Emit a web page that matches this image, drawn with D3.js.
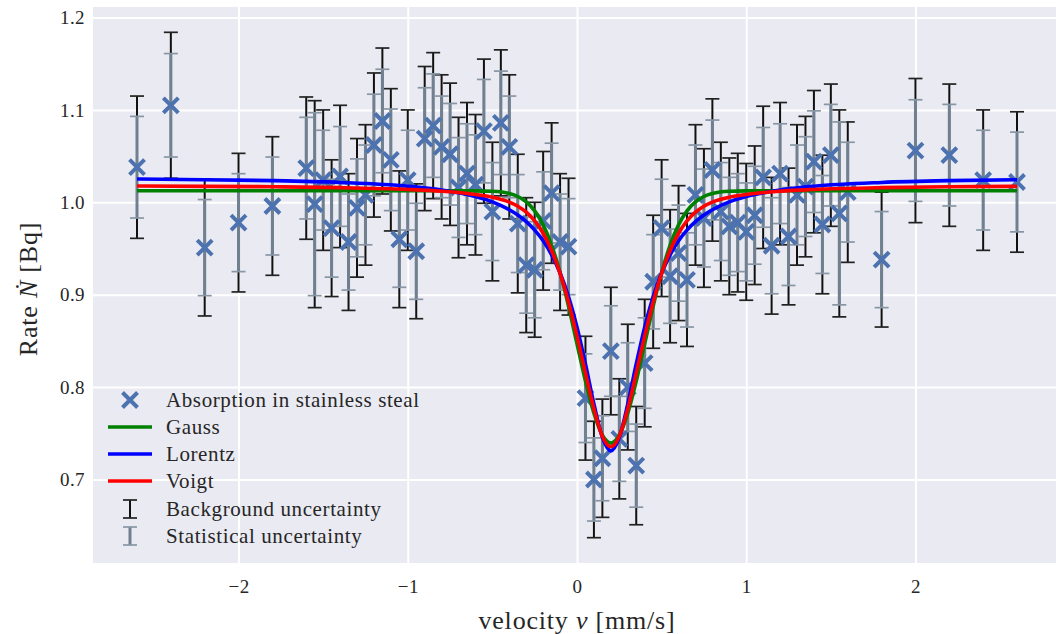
<!DOCTYPE html>
<html>
<head>
<meta charset="utf-8">
<script src="https://cdn.jsdelivr.net/npm/d3@7"></script>
<style>
  body { margin: 0; background: #fff; }
  text { font-family: "Liberation Serif", "DejaVu Serif", serif; fill: #262626; }
</style>
</head>
<body>
<div id="chart"></div>
<script>
// measured points (velocity in mm/s, rate in Bq)
var velocity = [-2.6, -2.4, -2.2, -2.0, -1.8,
  -1.6, -1.55, -1.5, -1.45, -1.4, -1.35, -1.3, -1.25, -1.2, -1.15, -1.1, -1.05, -1.0,
  -0.95, -0.9, -0.85, -0.8, -0.75, -0.7, -0.65, -0.6, -0.55, -0.5, -0.45, -0.4, -0.35,
  -0.3, -0.25, -0.2, -0.15, -0.1, -0.05,
  0.05, 0.1, 0.15, 0.2, 0.25, 0.3, 0.35, 0.4, 0.45, 0.5, 0.55, 0.6, 0.65, 0.7, 0.75,
  0.8, 0.85, 0.9, 0.95, 1.0, 1.05, 1.1, 1.15, 1.2, 1.25, 1.3, 1.35, 1.4, 1.45, 1.5,
  1.55, 1.6,
  1.8, 2.0, 2.2, 2.4, 2.6];
var rate = [1.038, 1.105, 0.951, 0.978, 0.996,
  1.037, 0.998, 1.024, 0.972, 1.028, 0.957, 0.994, 1.008, 1.062, 1.088, 1.046, 0.960, 1.024,
  0.947, 1.069, 1.083, 1.060, 1.052, 1.016, 1.031, 1.019, 1.077, 0.990, 1.086, 1.060, 0.977,
  0.932, 0.927, 0.980, 1.010, 0.957, 0.952,
  0.788, 0.700, 0.723, 0.839, 0.744, 0.800, 0.715, 0.826, 0.914, 0.972, 0.920, 0.945, 0.916, 1.008, 0.983,
  1.035, 0.990, 0.974, 0.978, 0.968, 0.986, 1.027, 0.953, 1.031, 0.963, 1.008, 1.017, 1.044, 0.976, 1.051,
  0.988, 1.011,
  0.938, 1.056, 1.051, 1.024, 1.022];
var statErr = [0.055, 0.056, 0.052, 0.053, 0.053,
  0.055, 0.099, 0.054, 0.053, 0.054, 0.052, 0.053, 0.054, 0.055, 0.056, 0.055, 0.052, 0.054,
  0.052, 0.055, 0.056, 0.055, 0.055, 0.054, 0.054, 0.054, 0.056, 0.053, 0.056, 0.055, 0.053,
  0.052, 0.052, 0.053, 0.054, 0.052, 0.052,
  0.048, 0.045, 0.046, 0.049, 0.046, 0.048, 0.045, 0.049, 0.051, 0.053, 0.051, 0.052, 0.051, 0.054, 0.053,
  0.054, 0.053, 0.053, 0.053, 0.053, 0.053, 0.054, 0.052, 0.054, 0.053, 0.054, 0.054, 0.055, 0.053, 0.055,
  0.099, 0.054,
  0.052, 0.055, 0.055, 0.054, 0.054];
var bgErr = [0.077, 0.079, 0.074, 0.075, 0.075,
  0.077, 0.112, 0.076, 0.074, 0.077, 0.074, 0.075, 0.076, 0.078, 0.079, 0.077, 0.074, 0.076,
  0.073, 0.078, 0.079, 0.078, 0.077, 0.076, 0.077, 0.076, 0.078, 0.075, 0.079, 0.078, 0.075,
  0.073, 0.073, 0.075, 0.076, 0.074, 0.074,
  0.067, 0.063, 0.064, 0.069, 0.065, 0.068, 0.064, 0.069, 0.072, 0.074, 0.072, 0.073, 0.072, 0.076, 0.075,
  0.077, 0.075, 0.074, 0.075, 0.074, 0.075, 0.077, 0.074, 0.077, 0.074, 0.076, 0.076, 0.077, 0.075, 0.077,
  0.112, 0.076,
  0.073, 0.078, 0.077, 0.076, 0.076];

// fitted curves
var fitV = [-2.6, -2.2, -1.8, -1.4, -1.0, -0.8, -0.6, -0.5, -0.4, -0.35, -0.3, -0.25, -0.2, -0.15,
  -0.1, -0.05, 0, 0.05, 0.1, 0.15, 0.2, 0.25, 0.3, 0.35, 0.4, 0.45, 0.5, 0.55, 0.6, 0.65, 0.7,
  0.75, 0.8, 0.9, 1.0, 1.2, 1.4, 1.8, 2.2, 2.6];
var gaussFit = [1.0125, 1.0125, 1.0125, 1.0125, 1.0125, 1.0125, 1.0124, 1.0119, 1.0095, 1.0063,
  1.0005, 0.9908, 0.9756, 0.9535, 0.9239, 0.8875, 0.8469, 0.8064, 0.7716, 0.7479, 0.7395, 0.7479,
  0.7716, 0.8064, 0.8469, 0.8875, 0.9239, 0.9535, 0.9756, 0.9908, 1.0005, 1.0063, 1.0095, 1.0119,
  1.0124, 1.0125, 1.0125, 1.0125, 1.0125, 1.0125];
var lorentzFit = [1.0252, 1.0245, 1.0235, 1.0215, 1.0174, 1.0133, 1.0062, 1.0004, 0.9919, 0.9862,
  0.9790, 0.9699, 0.9583, 0.9432, 0.9235, 0.8978, 0.8649, 0.8250, 0.7817, 0.7455, 0.7310, 0.7455,
  0.7817, 0.8250, 0.8649, 0.8978, 0.9235, 0.9432, 0.9583, 0.9699, 0.9790, 0.9862, 0.9919, 1.0004,
  1.0062, 1.0133, 1.0174, 1.0215, 1.0235, 1.0245];
var voigtFit = [1.0176, 1.0173, 1.0168, 1.0159, 1.0139, 1.0120, 1.0085, 1.0055, 1.0002, 0.9958,
  0.9893, 0.9799, 0.9665, 0.9478, 0.9231, 0.8919, 0.8552, 0.8151, 0.7764, 0.7468, 0.7355, 0.7468,
  0.7764, 0.8151, 0.8552, 0.8919, 0.9231, 0.9478, 0.9665, 0.9799, 0.9893, 0.9958, 1.0002, 1.0055,
  1.0085, 1.0120, 1.0139, 1.0159, 1.0168, 1.0173];

var xTicks = [-2, -1, 0, 1, 2];
var yTicks = [0.7, 0.8, 0.9, 1.0, 1.1, 1.2];
var fitNames = ["Gauss", "Lorentz", "Voigt"];
var fitColors = ["#008000", "#0000ff", "#ff0000"];

var W = 1056, H = 634;
var margin = {top: 7, left: 93},
    width = 968,
    height = 556;

var x = d3.scaleLinear().domain([-2.86, 2.86]).range([0, width]);
var y = d3.scaleLinear().domain([0.6096, 1.2114]).range([height, 0]);

var svg = d3.select("#chart").append("svg")
    .attr("width", W)
    .attr("height", H);

var g = svg.append("g")
    .attr("transform", "translate(" + margin.left + "," + margin.top + ")");

g.append("rect")
    .attr("width", width)
    .attr("height", height)
    .attr("fill", "#eaeaf2");

// grid
var xAxis = d3.axisBottom(x).tickValues(xTicks).tickSize(-height)
    .tickFormat(function(d) { return d < 0 ? "\u2212" + Math.abs(d) : d; });
var yAxis = d3.axisLeft(y).tickValues(yTicks).tickSize(-width)
    .tickFormat(d3.format(".1f"));

g.append("g")
    .attr("class", "x axis")
    .attr("transform", "translate(0," + height + ")")
    .call(xAxis)
    .call(function(s) {
      s.select(".domain").remove();
      s.selectAll("line").attr("stroke", "#fff").attr("stroke-width", 2);
      s.selectAll("text").attr("font-size", 19).attr("dy", 0).attr("y", 30)
        .style("font-family", "'Liberation Serif', serif").style("letter-spacing", "0.4px")
        .attr("fill", "#262626");
    });

g.append("g")
    .attr("class", "y axis")
    .call(yAxis)
    .call(function(s) {
      s.select(".domain").remove();
      s.selectAll("line").attr("stroke", "#fff").attr("stroke-width", 2);
      s.selectAll("text").attr("font-size", 19).attr("x", -8)
        .style("font-family", "'Liberation Serif', serif").style("letter-spacing", "0.4px")
        .attr("fill", "#262626");
    });

var pts = velocity.map(function(v, i) {
  return {v: v, r: rate[i], s: statErr[i], b: bgErr[i]};
});

function errBars(sel, key, color, lw, capColor) {
  var eb = sel.selectAll(null).data(pts).enter().append("g");
  eb.append("line")
      .attr("x1", function(d) { return x(d.v); })
      .attr("x2", function(d) { return x(d.v); })
      .attr("y1", function(d) { return y(d.r - d[key]); })
      .attr("y2", function(d) { return y(d.r + d[key]); })
      .attr("stroke", color).attr("stroke-width", lw);
  [-1, 1].forEach(function(sgn) {
    eb.append("line")
        .attr("x1", function(d) { return x(d.v) - 7; })
        .attr("x2", function(d) { return x(d.v) + 7; })
        .attr("y1", function(d) { return y(d.r + sgn * d[key]); })
        .attr("y2", function(d) { return y(d.r + sgn * d[key]); })
        .attr("stroke", capColor).attr("stroke-width", 1.7);
  });
}

var plot = g.append("g");
errBars(plot.append("g"), "b", "#111", 2, "#222");
errBars(plot.append("g"), "s", "#708090", 3, "#8896a4");

var cross = "M-7.5,-7.5L7.5,7.5M-7.5,7.5L7.5,-7.5";
plot.selectAll(".pt").data(pts).enter().append("path")
    .attr("class", "pt")
    .attr("d", cross)
    .attr("transform", function(d) { return "translate(" + x(d.v) + "," + y(d.r) + ")"; })
    .attr("fill", "none")
    .attr("stroke", "#4c72b0")
    .attr("stroke-width", 4);

var line = d3.line()
    .x(function(d) { return x(d[0]); })
    .y(function(d) { return y(d[1]); })
    .curve(d3.curveMonotoneX);

[gaussFit, lorentzFit, voigtFit].forEach(function(arr, k) {
  plot.append("path")
      .datum(fitV.map(function(v, i) { return [v, arr[i]]; }))
      .attr("d", line)
      .attr("fill", "none")
      .attr("stroke", fitColors[k])
      .attr("stroke-width", 3.6);
});

// legend
var lg = svg.append("g").attr("transform", "translate(93,0)");
var rowY = [400, 427, 454, 481, 509, 536];
var lx = 37, tx = 73, fs = 21, ls = "0.6px";

function legText(yy, t) {
  lg.append("text").attr("x", tx).attr("y", yy).attr("dy", "0.35em")
      .attr("font-size", fs).style("letter-spacing", ls).text(t);
}

lg.append("path").attr("d", cross)
    .attr("transform", "translate(" + lx + "," + rowY[0] + ")")
    .attr("fill", "none").attr("stroke", "#4c72b0").attr("stroke-width", 4);
legText(rowY[0], "Absorption in stainless steal");

fitNames.forEach(function(n, k) {
  var yy = rowY[k + 1];
  lg.append("line").attr("x1", lx - 22).attr("x2", lx + 22)
      .attr("y1", yy).attr("y2", yy)
      .attr("stroke", fitColors[k]).attr("stroke-width", 3.6);
  legText(yy, n);
});

[["Background uncertainty", "#111", 2, "#222"], ["Statistical uncertainty", "#708090", 3, "#8896a4"]]
  .forEach(function(e, k) {
    var yy = rowY[k + 4];
    lg.append("line").attr("x1", lx).attr("x2", lx).attr("y1", yy - 9).attr("y2", yy + 9)
        .attr("stroke", e[1]).attr("stroke-width", e[2]);
    [-9, 9].forEach(function(o) {
      lg.append("line").attr("x1", lx - 7).attr("x2", lx + 7).attr("y1", yy + o).attr("y2", yy + o)
          .attr("stroke", e[3]).attr("stroke-width", 1.7);
    });
    legText(yy, e[0]);
  });

// axis labels
var xl = svg.append("text")
    .attr("x", margin.left + x(0)).attr("y", 629)
    .attr("text-anchor", "middle")
    .attr("font-size", 26)
    .style("letter-spacing", "0.8px");
xl.append("tspan").text("velocity ");
xl.append("tspan").attr("font-style", "italic").text("v");
xl.append("tspan").text(" [mm/s]");

var yl = svg.append("text")
    .attr("transform", "translate(37," + (margin.top + height / 2 + 4) + ") rotate(-90)")
    .attr("text-anchor", "middle")
    .attr("font-size", 26)
    .style("letter-spacing", "0.8px");
yl.append("tspan").text("Rate ");
yl.append("tspan").attr("font-style", "italic").text("\u1E44");
yl.append("tspan").text(" [Bq]");
</script>
</body>
</html>
